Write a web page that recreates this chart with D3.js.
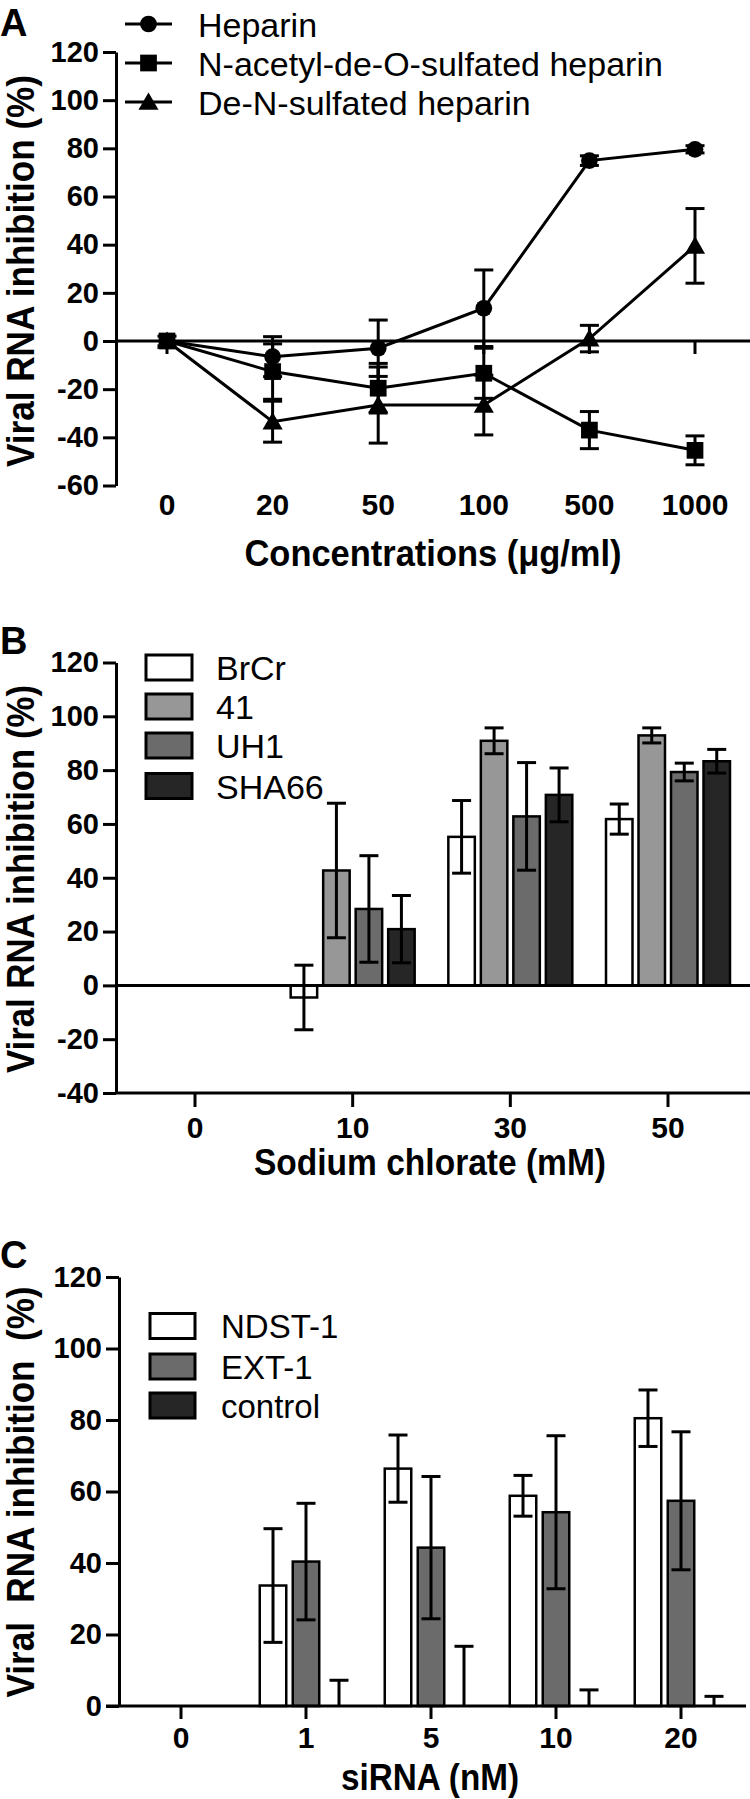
<!DOCTYPE html>
<html>
<head>
<meta charset="utf-8">
<script src="https://cdn.jsdelivr.net/npm/d3@7/dist/d3.min.js"></script>
<style>
  html, body { margin: 0; padding: 0; background: #fff; }
  svg { display: block; }
  text { font-family: 'Liberation Sans', Arial, Helvetica, sans-serif; fill: #000; }
</style>
</head>
<body>
<div id="chart"></div>
<script>
// ---------------- DATA ----------------
// Panel A
const catsA = ["0", "20", "50", "100", "500", "1000"];
const seriesA = ["Heparin", "N-acetyl-de-O-sulfated heparin", "De-N-sulfated heparin"];
const heparinA = [0, -6.5, -3, 13.6, 74.9, 79.6];
const heparinErrA = [0, 8.3, 11.7, 15.9, 2, 1.5];
const nacetylA = [0, -12.7, -19.6, -13.4, -37, -45.4];
const nacetylErrA = [0, 11.5, 10.3, 10.4, 7.7, 6];
const denA = [0, -33.5, -26.6, -26.6, 1, 39.5];
const denErrA = [2, 8.5, 15.8, 12.4, 5.5, 15.5];
const yTicksA = [-60, -40, -20, 0, 20, 40, 60, 80, 100, 120];

// Panel B
const catsB = ["0", "10", "30", "50"];
const seriesB = ["BrCr", "41", "UH1", "SHA66"];
const brcrB = [0, -4.5, 55.2, 61.8];
const brcrErrB = [0, 12, 13.5, 5.6];
const s41B = [0, 42.7, 90.9, 92.9];
const s41ErrB = [0, 25, 4.8, 2.8];
const uh1B = [0, 28.4, 62.8, 79.3];
const uh1ErrB = [0, 19.8, 20, 3.3];
const sha66B = [0, 20.9, 70.8, 83.3];
const sha66ErrB = [0, 12.5, 10, 4.4];
const yTicksB = [-40, -20, 0, 20, 40, 60, 80, 100, 120];

// Panel C
const catsC = ["0", "1", "5", "10", "20"];
const seriesC = ["NDST-1", "EXT-1", "control"];
const ndstC = [0, 33.7, 66.4, 58.8, 80.5];
const ndstErrC = [0, 15.9, 9.4, 5.7, 7.9];
const ext1C = [0, 40.4, 44.3, 54.2, 57.4];
const ext1ErrC = [0, 16.3, 19.9, 21.4, 19.3];
const controlC = [0, 0, 0, 0, 0];
const controlErrC = [0, 7.2, 16.7, 4.5, 2.7];
const yTicksC = [0, 20, 40, 60, 80, 100, 120];

// ---------------- DRAWING ----------------
const W = 750, H = 1799;
const svg = d3.select("#chart").append("svg").attr("width", W).attr("height", H);
const SW = 3;

function styleYAxis(g) {
  g.select(".domain").attr("stroke", "#000").attr("stroke-width", SW);
  g.selectAll(".tick line").attr("stroke", "#000").attr("stroke-width", SW);
  g.selectAll(".tick text").attr("font-size", 29).attr("font-weight", "bold")
    .attr("fill", "#000").attr("font-family", "'Liberation Sans', Arial, sans-serif");
}

function yTitle(text, cx, cy, len) {
  svg.append("text")
    .attr("transform", `translate(${cx},${cy}) rotate(-90)`)
    .attr("text-anchor", "middle").attr("dy", "0.36em")
    .attr("font-size", 38).attr("font-weight", "bold")
    .attr("textLength", len).attr("lengthAdjust", "spacingAndGlyphs")
    .style("white-space", "pre")
    .text(text);
}
function xTitle(text, cx, cy, len) {
  svg.append("text").attr("x", cx).attr("y", cy).attr("dy", "0.36em")
    .attr("text-anchor", "middle").attr("font-size", 36).attr("font-weight", "bold")
    .attr("textLength", len).attr("lengthAdjust", "spacingAndGlyphs")
    .text(text);
}
function panelLabel(t, y) {
  svg.append("text").attr("x", 0).attr("y", y).attr("font-size", 38)
    .attr("font-weight", "bold").text(t);
}
function xTickLabels(scale, cats, yCenter) {
  svg.append("g").selectAll("text").data(cats).join("text")
    .attr("x", d => scale(d)).attr("y", yCenter).attr("dy", "0.36em")
    .attr("text-anchor", "middle").attr("font-size", 30).attr("font-weight", "bold")
    .text(d => d);
}
function xTicks(scale, cats, y0, len) {
  svg.append("g").selectAll("line").data(cats).join("line")
    .attr("x1", d => scale(d)).attr("x2", d => scale(d))
    .attr("y1", y0).attr("y2", y0 + len)
    .attr("stroke", "#000").attr("stroke-width", SW);
}
function errorBar(g, x, v, e, yScale, capHalf) {
  if (!e) return;
  const [dmin, dmax] = yScale.domain();
  const lo = Math.max(v - e, dmin), hi = Math.min(v + e, dmax);
  g.append("line").attr("x1", x).attr("x2", x)
    .attr("y1", yScale(lo)).attr("y2", yScale(hi))
    .attr("stroke", "#000").attr("stroke-width", SW);
  if (v + e <= dmax)
    g.append("line").attr("x1", x - capHalf).attr("x2", x + capHalf)
      .attr("y1", yScale(v + e)).attr("y2", yScale(v + e))
      .attr("stroke", "#000").attr("stroke-width", SW);
  if (v - e >= dmin)
    g.append("line").attr("x1", x - capHalf).attr("x2", x + capHalf)
      .attr("y1", yScale(v - e)).attr("y2", yScale(v - e))
      .attr("stroke", "#000").attr("stroke-width", SW);
}

// ===== Panel A =====
panelLabel("A", 36);
const xA = d3.scalePoint().domain(catsA).range([167, 695]);
const yA = d3.scaleLinear().domain([-60, 120]).range([485.5, 52]);
svg.append("g").attr("transform", "translate(116,0)")
  .call(d3.axisLeft(yA).tickValues(yTicksA).tickSize(13).tickSizeOuter(0).tickPadding(4)
    .tickFormat(d => String(d)))
  .call(styleYAxis);
svg.append("line").attr("x1", 116).attr("x2", 750).attr("y1", yA(0)).attr("y2", yA(0))
  .attr("stroke", "#000").attr("stroke-width", SW);
xTicks(xA, catsA, yA(0), 13);
xTickLabels(xA, catsA, 504);
xTitle("Concentrations (\u03bcg/ml)", 433, 553, 377);
yTitle("Viral RNA inhibition (%)", 20, 271, 392);

const symA = [d3.symbolCircle, d3.symbolSquare, d3.symbolTriangle];
const symSizeA = [220, 280, 175];
const valsA = [heparinA, nacetylA, denA];
const errsA = [heparinErrA, nacetylErrA, denErrA];
const lineA = d3.line().x((d, i) => xA(catsA[i])).y(d => yA(d));
const gLinesA = svg.append("g");
valsA.forEach(v => gLinesA.append("path").attr("d", lineA(v))
  .attr("fill", "none").attr("stroke", "#000").attr("stroke-width", SW));
const gErrA = svg.append("g");
valsA.forEach((v, s) => v.forEach((d, i) => errorBar(gErrA, xA(catsA[i]), d, errsA[s][i], yA, 9.5)));
const gMarkA = svg.append("g");
valsA.forEach((v, s) => gMarkA.selectAll(null).data(v).join("path")
  .attr("transform", (d, i) => `translate(${xA(catsA[i])},${yA(d) + (s === 2 ? 2 : 0)})`)
  .attr("d", d3.symbol().type(symA[s]).size(symSizeA[s])).attr("fill", "#000"));
// legend A
const legRowsA = [24, 63, 102];
seriesA.forEach((name, s) => {
  const y = legRowsA[s];
  svg.append("line").attr("x1", 125).attr("x2", 172).attr("y1", y).attr("y2", y)
    .attr("stroke", "#000").attr("stroke-width", SW);
  svg.append("path").attr("transform", `translate(148.5,${y + (s === 2 ? 2 : 0)})`)
    .attr("d", d3.symbol().type(symA[s]).size(symSizeA[s])).attr("fill", "#000");
  svg.append("text").attr("x", 198).attr("y", y + 12.5).attr("font-size", 34).text(name);
});

// ===== Panel B =====
panelLabel("B", 654);
const xB = d3.scalePoint().domain(catsB).range([195, 668]);
const subB = d3.scaleBand().domain(seriesB).range([-65, 65]).paddingInner(0.185).paddingOuter(0.0925);
const yB = d3.scaleLinear().domain([-40, 120]).range([1093, 662.5]);
const colorsB = ["#ffffff", "#979797", "#6b6b6b", "#262626"];
const valsB = [brcrB, s41B, uh1B, sha66B];
const errsB = [brcrErrB, s41ErrB, uh1ErrB, sha66ErrB];
svg.append("g").attr("transform", "translate(116,0)")
  .call(d3.axisLeft(yB).tickValues(yTicksB).tickSize(13).tickSizeOuter(0).tickPadding(4)
    .tickFormat(d => String(d)))
  .call(styleYAxis);
svg.append("line").attr("x1", 116).attr("x2", 750).attr("y1", yB(-40)).attr("y2", yB(-40))
  .attr("stroke", "#000").attr("stroke-width", SW);
xTicks(xB, catsB, yB(-40), 14);
xTickLabels(xB, catsB, 1127);
xTitle("Sodium chlorate (mM)", 430, 1162, 352);
yTitle("Viral RNA inhibition (%)", 20, 879, 388);
const gBarsB = svg.append("g");
valsB.forEach((v, s) => v.forEach((d, i) => {
  if (d === 0) return;
  const x = xB(catsB[i]) + subB(seriesB[s]);
  gBarsB.append("rect").attr("x", x).attr("width", subB.bandwidth())
    .attr("y", Math.min(yB(0), yB(d))).attr("height", Math.abs(yB(0) - yB(d)))
    .attr("fill", colorsB[s]).attr("stroke", "#000").attr("stroke-width", 2.5);
}));
svg.append("line").attr("x1", 116).attr("x2", 750).attr("y1", yB(0)).attr("y2", yB(0))
  .attr("stroke", "#000").attr("stroke-width", SW);
const gErrB = svg.append("g");
valsB.forEach((v, s) => v.forEach((d, i) => {
  const x = xB(catsB[i]) + subB(seriesB[s]) + subB.bandwidth() / 2;
  errorBar(gErrB, x, d, errsB[s][i], yB, 9.5);
}));
const legRowsB = [667.5, 706.5, 745.5, 786];
seriesB.forEach((name, s) => {
  const y = legRowsB[s];
  svg.append("rect").attr("x", 146).attr("y", y - 12.5).attr("width", 46).attr("height", 25)
    .attr("fill", colorsB[s]).attr("stroke", "#000").attr("stroke-width", SW);
  svg.append("text").attr("x", 216).attr("y", y + 12.5).attr("font-size", 34).text(name);
});

// ===== Panel C =====
panelLabel("C", 1268);
const xC = d3.scalePoint().domain(catsC).range([181, 681]);
const subC = d3.scaleBand().domain(seriesC).range([-49.5, 49.5]).paddingInner(0.197).paddingOuter(0.0985);
const yC = d3.scaleLinear().domain([0, 120]).range([1706, 1277]);
const colorsC = ["#ffffff", "#6b6b6b", "#262626"];
const valsC = [ndstC, ext1C, controlC];
const errsC = [ndstErrC, ext1ErrC, controlErrC];
svg.append("g").attr("transform", "translate(119,0)")
  .call(d3.axisLeft(yC).tickValues(yTicksC).tickSize(13).tickSizeOuter(0).tickPadding(4)
    .tickFormat(d => String(d)))
  .call(styleYAxis);
const gBarsC = svg.append("g");
valsC.forEach((v, s) => v.forEach((d, i) => {
  if (d === 0) return;
  const x = xC(catsC[i]) + subC(seriesC[s]);
  gBarsC.append("rect").attr("x", x).attr("width", subC.bandwidth())
    .attr("y", yC(d)).attr("height", yC(0) - yC(d))
    .attr("fill", colorsC[s]).attr("stroke", "#000").attr("stroke-width", 2.5);
}));
const gErrC = svg.append("g");
valsC.forEach((v, s) => v.forEach((d, i) => {
  const x = xC(catsC[i]) + subC(seriesC[s]) + subC.bandwidth() / 2;
  errorBar(gErrC, x, d, errsC[s][i], yC, 9.5);
}));
svg.append("line").attr("x1", 106).attr("x2", 746).attr("y1", yC(0)).attr("y2", yC(0))
  .attr("stroke", "#000").attr("stroke-width", SW);
xTicks(xC, catsC, yC(0), 13);
xTickLabels(xC, catsC, 1737);
xTitle("siRNA (nM)", 430, 1777, 178);
yTitle("Viral  RNA inhibition  (%)", 20, 1492, 411);
const legRowsC = [1326, 1366.5, 1405.5];
seriesC.forEach((name, s) => {
  const y = legRowsC[s];
  svg.append("rect").attr("x", 150).attr("y", y - 12.5).attr("width", 45).attr("height", 25)
    .attr("fill", colorsC[s]).attr("stroke", "#000").attr("stroke-width", SW);
  svg.append("text").attr("x", 221).attr("y", y + 12).attr("font-size", 33).text(name);
});
</script>
</body>
</html>
